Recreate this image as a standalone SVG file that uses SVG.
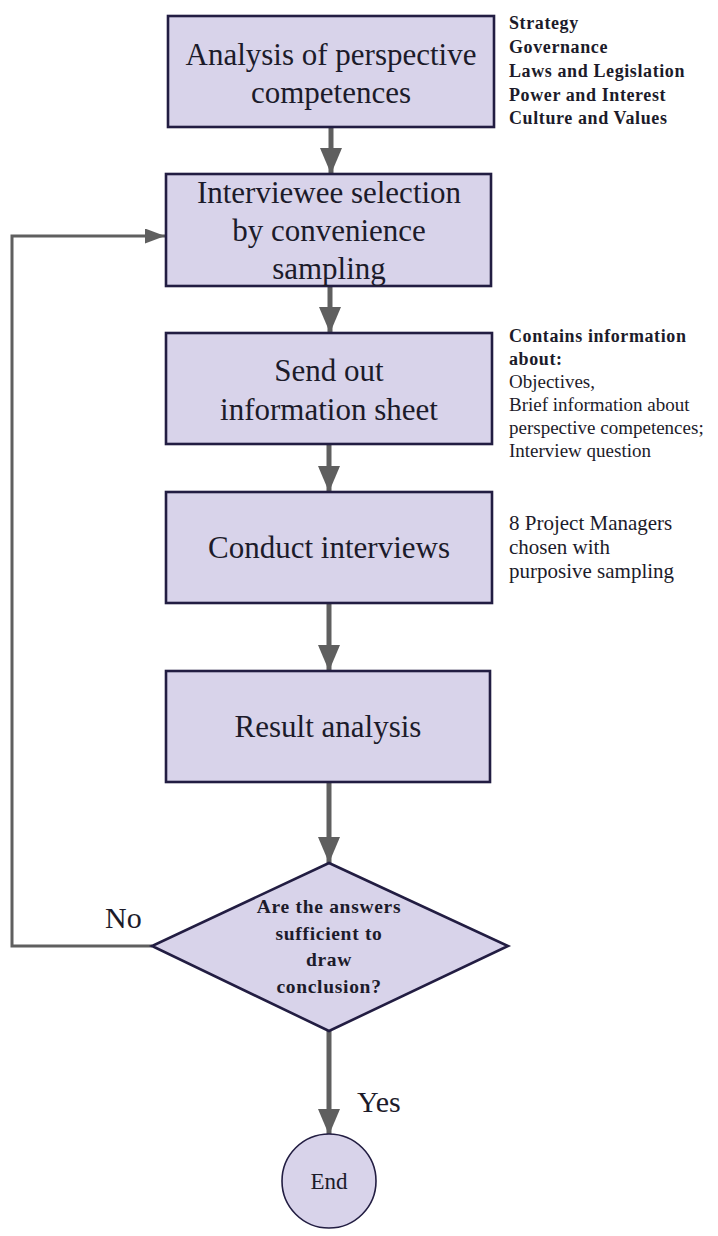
<svg xmlns="http://www.w3.org/2000/svg" width="718" height="1236" viewBox="0 0 718 1236">
<defs>
<style>
.box{fill:#d8d3ea;stroke:#221d42;stroke-width:2.6}
.t{font-family:"Liberation Serif","Times New Roman",serif;fill:#1c1b2a}
.big{font-size:31px;text-anchor:middle}
.ann{font-size:19px}
.annb{font-size:18px;font-weight:bold;letter-spacing:0.6px}
.dq{font-size:19.5px;font-weight:bold;text-anchor:middle;letter-spacing:0.7px}
.conn{fill:none;stroke:#5f5f5f;stroke-width:5}
.loop{fill:none;stroke:#5f5f5f;stroke-width:3}
</style>
<marker id="ah" markerUnits="userSpaceOnUse" markerWidth="26" markerHeight="22" refX="26" refY="11" orient="auto">
<path d="M0,0 L26,11 L0,22 z" fill="#5f5f5f"/>
</marker>
<marker id="ahs" markerUnits="userSpaceOnUse" markerWidth="20" markerHeight="15" refX="20" refY="7.5" orient="auto">
<path d="M0,0 L20,7.5 L0,15 z" fill="#5f5f5f"/>
</marker>
</defs>
<rect width="718" height="1236" fill="#ffffff"/>
<g id="connectors">
<line class="conn" x1="331" y1="127" x2="331" y2="174" marker-end="url(#ah)"/>
<line class="conn" x1="330" y1="286" x2="330" y2="333" marker-end="url(#ah)"/>
<line class="conn" x1="329" y1="444" x2="329" y2="492" marker-end="url(#ah)"/>
<line class="conn" x1="329" y1="603" x2="329" y2="671" marker-end="url(#ah)"/>
<line class="conn" x1="329" y1="782" x2="329" y2="863" marker-end="url(#ah)"/>
<line class="conn" x1="329" y1="1031" x2="329" y2="1135" marker-end="url(#ah)"/>
<polyline class="loop" points="152,946 12,946 12,236 165,236" marker-end="url(#ahs)"/>
<text class="t" x="105" y="928" font-size="30">No</text>
<text class="t" x="357" y="1112" font-size="30">Yes</text>
</g>
<g id="n1">
<rect class="box" x="168" y="16" width="326" height="111"/>
<text class="t big" x="331" y="65">Analysis of perspective</text>
<text class="t big" x="331" y="103">competences</text>
</g>
<g id="n1-note">
<text class="t annb" x="509" y="29">Strategy</text>
<text class="t annb" x="509" y="53">Governance</text>
<text class="t annb" x="509" y="77">Laws and Legislation</text>
<text class="t annb" x="509" y="101">Power and Interest</text>
<text class="t annb" x="509" y="124">Culture and Values</text>
</g>
<g id="n2">
<rect class="box" x="166" y="174" width="325" height="112"/>
<text class="t big" x="329" y="203">Interviewee selection</text>
<text class="t big" x="329" y="241">by convenience</text>
<text class="t big" x="329" y="279">sampling</text>
</g>
<g id="n3">
<rect class="box" x="166" y="333" width="326" height="111"/>
<text class="t big" x="329" y="381">Send out</text>
<text class="t big" x="329" y="420">information sheet</text>
</g>
<g id="n3-note">
<text class="t annb" x="509" y="342">Contains information</text>
<text class="t annb" x="509" y="365">about:</text>
<text class="t ann" x="509" y="388">Objectives,</text>
<text class="t ann" x="509" y="411">Brief information about</text>
<text class="t ann" x="509" y="434">perspective competences;</text>
<text class="t ann" x="509" y="457">Interview question</text>
</g>
<g id="n4">
<rect class="box" x="166" y="492" width="326" height="111"/>
<text class="t big" x="329" y="558">Conduct interviews</text>
</g>
<g id="n4-note">
<text class="t" x="509" y="530" font-size="21">8 Project Managers</text>
<text class="t" x="509" y="554" font-size="21">chosen with</text>
<text class="t" x="509" y="578" font-size="21">purposive sampling</text>
</g>
<g id="n5">
<rect class="box" x="166" y="671" width="324" height="111"/>
<text class="t big" x="328" y="737">Result analysis</text>
</g>
<g id="n6">
<polygon class="box" points="329,863 508,946 329,1031 152,946"/>
<text class="t dq" x="329" y="913">Are the answers</text>
<text class="t dq" x="329" y="940">sufficient to</text>
<text class="t dq" x="329" y="966">draw</text>
<text class="t dq" x="329" y="993">conclusion?</text>
</g>
<g id="n7">
<circle cx="329" cy="1181" r="47" fill="#d8d3ea" stroke="#221d42" stroke-width="1.6"/>
<text class="t" x="329" y="1189" font-size="23" text-anchor="middle">End</text>
</g>
</svg>
